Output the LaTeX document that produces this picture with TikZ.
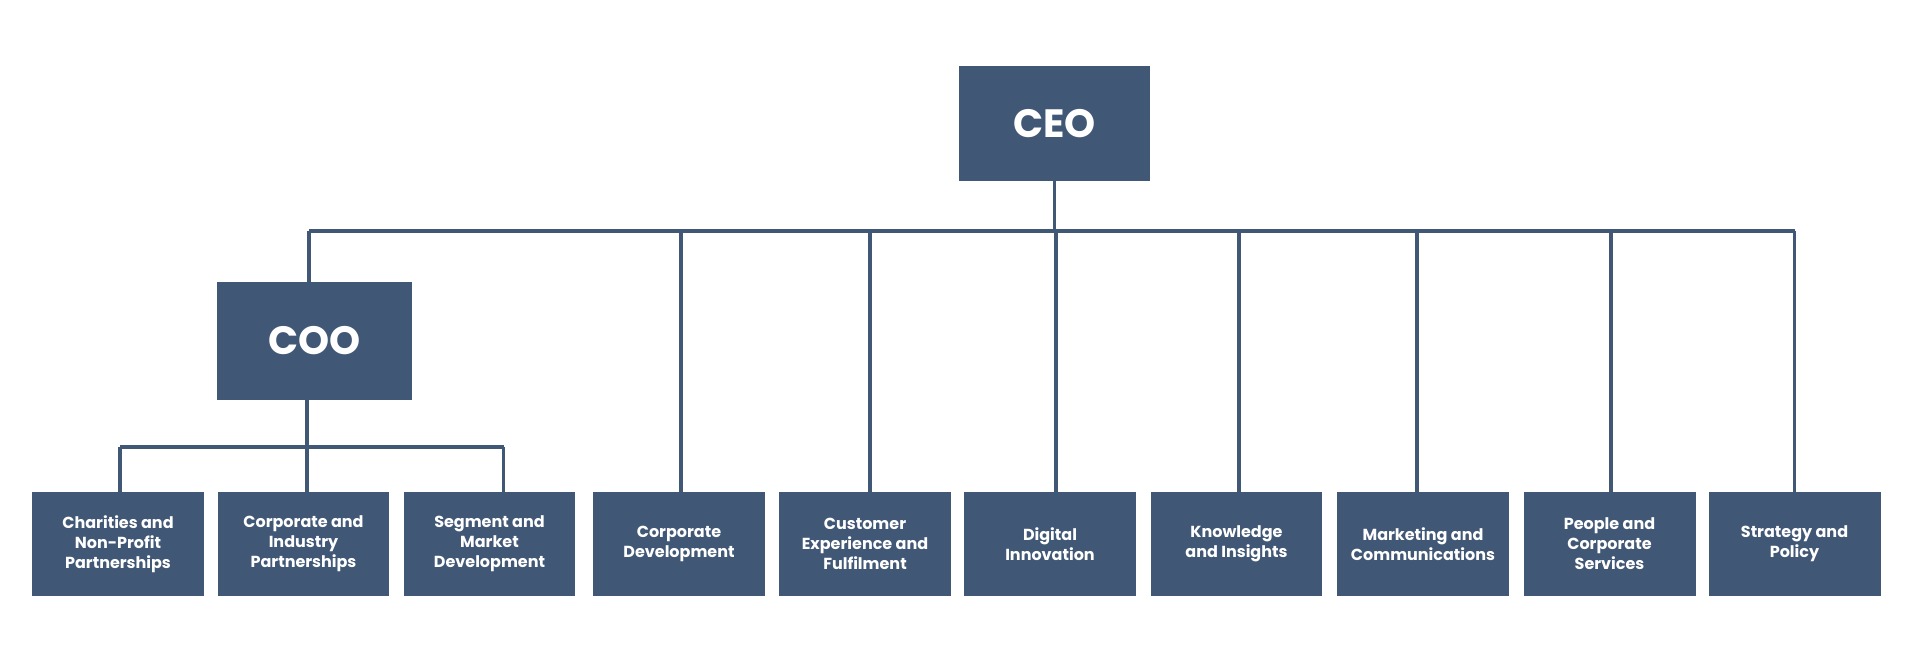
\documentclass[tikz,border=0pt]{standalone}
\usepackage{fontspec}
\setmainfont{Poppins}
\definecolor{boxblue}{RGB}{65,87,118}
\tikzset{
  unitbox/.style={fill=boxblue, text=white, align=center, inner sep=0pt},
  sub/.style={unitbox, minimum width=3.44cm, minimum height=2.08cm,
    font=\bfseries\fontsize{9.1}{11.4}\selectfont},
  head/.style={unitbox, font=\bfseries\fontsize{22.5}{24}\selectfont},
  link/.style={draw=boxblue, line width=1.9pt}
}
\begin{document}
\begin{tikzpicture}[x=0.02cm,y=-0.02cm]
\useasboundingbox (0,0) rectangle (1914,650);
% top level
\node[head, minimum width=3.82cm, minimum height=2.30cm] (ceo) at (1054.5,123.5) {CEO};
\node[head, minimum width=3.90cm, minimum height=2.36cm] (coo) at (314.5,341) {COO};
% bottom row
\node[sub] (b1) at (118,544) {Charities and\\Non-Profit\\Partnerships};
\node[sub] (b2) at (303.5,544) {Corporate and\\Industry\\Partnerships};
\node[sub] (b3) at (489.5,544) {Segment and\\Market\\Development};
\node[sub] (b4) at (679,544) {Corporate\\Development};
\node[sub] (b5) at (865,544) {Customer\\Experience and\\Fulfilment};
\node[sub] (b6) at (1050,544) {Digital\\Innovation};
\node[sub] (b7) at (1236.5,544) {Knowledge\\and Insights};
\node[sub] (b8) at (1423,544) {Marketing and\\Communications};
\node[sub] (b9) at (1609.5,544) {People and\\Corporate\\Services};
\node[sub] (b10) at (1794.5,544) {Strategy and\\Policy};
% CEO bar
\coordinate (bar) at (1054.5,231);
\coordinate (barL) at (309,231);
\coordinate (barR) at (1794.5,231);
\draw[link] (ceo.south) -- (bar);
\draw[link] (barL) -- (barR);
\draw[link] (coo.north -| barL) -- (barL);
\foreach \n/\dx in {b4/2,b5/5,b6/6,b7/2.5,b8/-6,b9/1.5,b10/0}{
  \draw[link] ([xshift=\dx*0.02cm]\n.north) -- ([xshift=\dx*0.02cm]\n.north |- bar);
}
% COO bar
\coordinate (cbar) at (307,447);
\coordinate (cbarL) at (120,447);
\coordinate (cbarR) at (503.5,447);
\draw[link] (coo.south -| cbar) -- (cbar);
\draw[link] (cbarL) -- (cbarR);
\draw[link] (b1.north -| cbarL) -- (cbarL);
\draw[link] (b2.north -| cbar) -- (cbar);
\draw[link] (b3.north -| cbarR) -- (cbarR);
\end{tikzpicture}
\end{document}
